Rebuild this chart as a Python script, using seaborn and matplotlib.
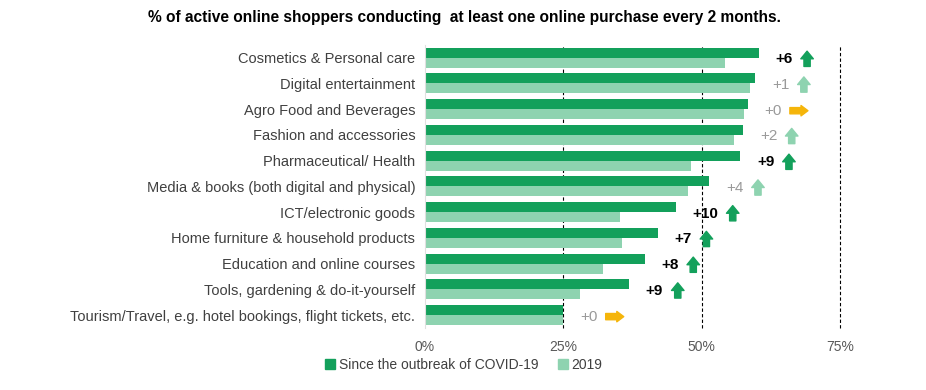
import matplotlib
matplotlib.use("Agg")
import matplotlib.pyplot as plt
from matplotlib.patches import Patch
from matplotlib.text import OffsetFrom
import seaborn as sns
import pandas as pd

# 数据
categories = [
    "Cosmetics & Personal care",
    "Digital entertainment",
    "Agro Food and Beverages",
    "Fashion and accessories",
    "Pharmaceutical/ Health",
    "Media & books (both digital and physical)",
    "ICT/electronic goods",
    "Home furniture & household products",
    "Education and online courses",
    "Tools, gardening & do-it-yourself",
    "Tourism/Travel, e.g. hotel bookings, flight tickets, etc.",
]
covid = [60.3, 59.7, 58.3, 57.5, 57.0, 51.4, 45.3, 42.1, 39.7, 36.9, 25.0]
y2019 = [54.2, 58.8, 57.7, 55.8, 48.0, 47.6, 35.3, 35.6, 32.2, 28.1, 25.0]
changes = ["+6", "+1", "+0", "+2", "+9", "+4", "+10", "+7", "+8", "+9", "+0"]
significant = [True, False, False, False, True, False, True, True, True, True, False]
series = ["Since the outbreak of COVID-19", "2019"]
xticks = [0, 25, 50, 75]

dark = "#13A05B"
light = "#8ED3B0"
yellow = "#F5B50A"

df = pd.DataFrame({
    "cat": categories * 2,
    "val": covid + y2019,
    "series": [series[0]] * len(categories) + [series[1]] * len(categories),
})

sns.set_style("white")
plt.rcParams["font.family"] = ["Liberation Sans", "DejaVu Sans"]

fig = plt.figure(figsize=(9.26, 3.9), dpi=100)
ax = fig.add_axes([0.459, 0.159, 0.448, 0.726])

for x in xticks[1:]:
    ax.axvline(x, color="black", lw=0.8, ls=(0, (3, 2)), zorder=0, clip_on=False)

sns.barplot(data=df, y="cat", x="val", hue="series", palette=[dark, light],
            width=0.78, dodge=True, saturation=1, legend=False, ax=ax, zorder=2,
            linewidth=0, edgecolor="none")

ax.set_xlim(0, 75)
ax.set_xticks(xticks)
ax.set_xticklabels([f"{t}%" for t in xticks], color="#595959", fontsize=10)
ax.tick_params(axis="x", length=0, pad=9)
ax.tick_params(axis="y", length=0, pad=7, labelsize=10.5, labelcolor="#404040")
ax.set_xlabel("")
ax.set_ylabel("")
for s in ["top", "right", "bottom"]:
    ax.spines[s].set_visible(False)
ax.spines["left"].set_color("#E0E0E0")
ax.spines["left"].set_linewidth(0.8)

# 变化标签和箭头
for i, (v, lab, sig) in enumerate(zip(covid, changes, significant)):
    if sig:
        txt = ax.annotate(lab, xy=(v, i), xytext=(12, 0), textcoords="offset points",
                          ha="left", va="center_baseline", fontsize=11, fontweight="bold", color="black")
    else:
        txt = ax.annotate(lab, xy=(v, i), xytext=(12, 0), textcoords="offset points",
                          ha="left", va="center_baseline", fontsize=11, color="#9A9A9A")
    off = OffsetFrom(txt, (1, 0.5), unit="points")
    if lab == "+0":
        ax.annotate("", xy=(19, 0), xycoords=off, xytext=(6, 0), textcoords=off,
                    arrowprops=dict(arrowstyle="simple,head_length=0.5,head_width=0.75,tail_width=0.45",
                                    color=yellow, shrinkA=0, shrinkB=0, mutation_scale=10))
    else:
        c = dark if sig else light
        ax.annotate("", xy=(10.5, 5.8), xycoords=off, xytext=(10.5, -5.2), textcoords=off,
                    arrowprops=dict(arrowstyle="simple,head_length=0.55,head_width=0.9,tail_width=0.45",
                                    color=c, shrinkA=0, shrinkB=0, mutation_scale=10))

fig.text(0.502, 0.954, "% of active online shoppers conducting  at least one online purchase every 2 months.",
         ha="center", va="center", fontsize=11.2, fontweight="bold", color="black")

handles = [Patch(color=dark), Patch(color=light)]
fig.legend(handles, series, loc="center left", bbox_to_anchor=(0.345, 0.065), ncol=2, frameon=False,
           handlelength=0.7, handleheight=0.7, handletextpad=0.3, columnspacing=1.4,
           fontsize=10, labelcolor="#404040", borderaxespad=0)

fig.savefig("out.png", dpi=100)
